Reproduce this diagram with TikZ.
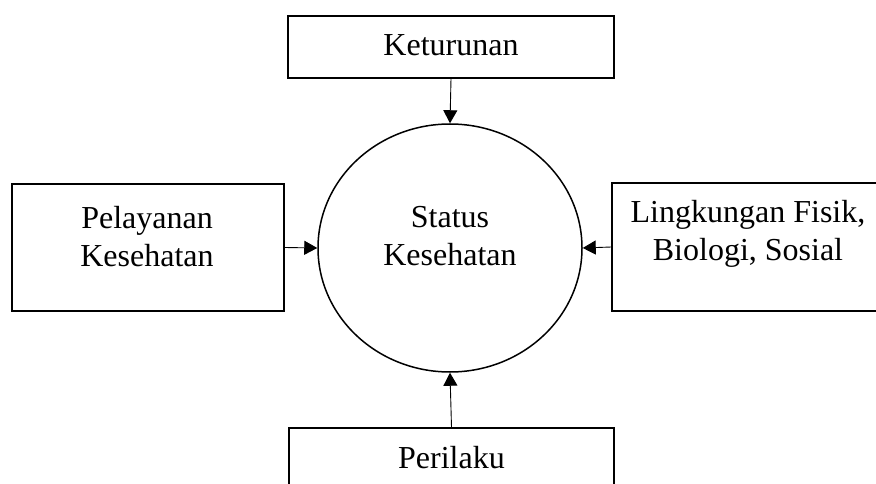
\documentclass[tikz,border=0pt]{standalone}
\usepackage{fontspec}
\setmainfont{Liberation Serif}
\usetikzlibrary{shapes.geometric,arrows.meta}
\tikzset{
  kotak/.style={draw, line width=1.5pt, inner sep=0pt},
  teks/.style={align=center, inner sep=0pt, font=\fontsize{32}{38}\selectfont},
  panah/.style={-{Triangle[length=13pt,width=14pt]}, line width=0.9pt},
}
\begin{document}
\begin{tikzpicture}[x=1pt,y=-1pt]
\useasboundingbox (0,0) rectangle (876,484);
\clip (0,0) rectangle (876,484);
% lingkaran tengah
\node[kotak, ellipse, minimum width=264pt, minimum height=248pt] (status) at (450,248) {};
\node[teks] (statusteks) at (450,236) {Status\\Kesehatan};
% kotak atas
\node[kotak, minimum width=326pt, minimum height=62pt] (keturunan) at (451,47) {};
\node[teks] (keturunanteks) at (451,45) {Keturunan};
% kotak kiri
\node[kotak, minimum width=272pt, minimum height=127pt] (pelayanan) at (148,247.5) {};
\node[teks] (pelayananteks) at (147,237) {Pelayanan\\Kesehatan};
% kotak kanan
\node[kotak, minimum width=300pt, minimum height=128pt] (lingkungan) at (762,247) {};
\node[teks] (lingkunganteks) at (748,234) {Lingkungan Fisik,\\Biologi, Sosial};
% kotak bawah
\node[kotak, minimum width=325pt, minimum height=100pt] (perilaku) at (451.5,478) {};
\node[teks] (perilakuteks) at (451.5,458) {Perilaku};
% panah
\draw[panah] (keturunan.south) -- (status.north);
\draw[panah] (pelayanan.east) -- (status.west);
\draw[panah] (lingkungan.west) -- (status.east);
\draw[panah] (perilaku.north) -- (status.south);
\end{tikzpicture}
\end{document}
